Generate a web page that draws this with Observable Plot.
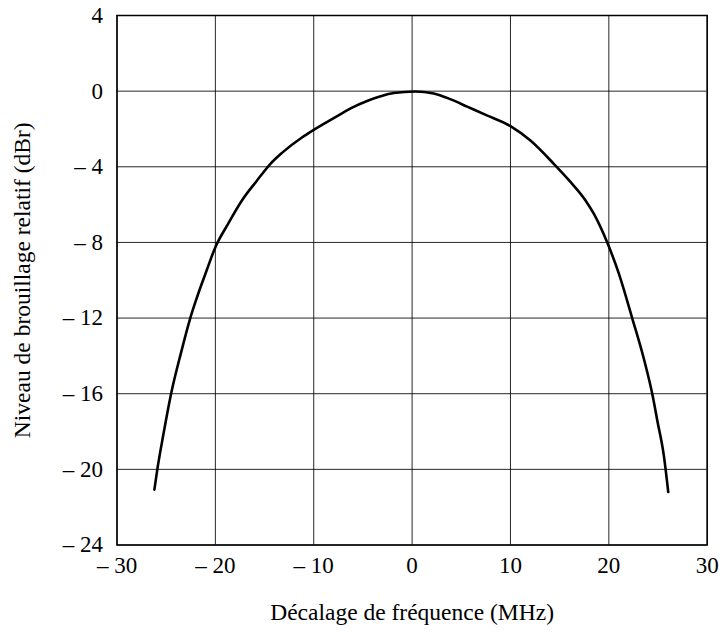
<!DOCTYPE html>
<html>
<head>
<meta charset="utf-8">
<script src="https://cdn.jsdelivr.net/npm/d3@7"></script>
<script src="https://cdn.jsdelivr.net/npm/@observablehq/plot@0.6"></script>
<style>
  html, body { margin: 0; padding: 0; background: white; }
</style>
</head>
<body>
<div id="chart"></div>
<script>
const freqOffset = [-26.2, -25.9, -25.3, -24.5, -23.5, -22.55, -21.9, -20.9, -20.0, -18.8, -17.3, -15.8, -14.4, -13.2, -11.2, -10.0, -7.97, -6.2, -4.58, -3.2, -1.87, 0.3, 2.2, 4.0, 5.6, 7.6, 10.0, 12.0, 14.4, 16.1, 17.63, 18.47, 19.84, 21.02, 22.38, 23.56, 24.48, 24.92, 25.6, 26.04];
const level = [-21.07, -20, -18.2, -16, -13.85, -12, -10.95, -9.5, -8.25, -7.1, -5.78, -4.75, -3.84, -3.25, -2.45, -2.05, -1.43, -0.9, -0.52, -0.27, -0.1, -0.02, -0.12, -0.45, -0.82, -1.28, -1.85, -2.6, -3.84, -4.8, -5.78, -6.48, -8.01, -9.65, -12.01, -14.15, -16.17, -17.4, -19.3, -21.2];
const xTicks = [-30, -20, -10, 0, 10, 20, 30];
const yTicks = [4, 0, -4, -8, -12, -16, -20, -24];
const xLabel = "Décalage de fréquence (MHz)";
const yLabel = "Niveau de brouillage relatif (dBr)";

const data = freqOffset.map((x, i) => ({x, y: level[i]}));
const fmt = d => d < 0 ? "\u2013 " + Math.abs(d) : String(d);

const chart = Plot.plot({
  width: 720,
  height: 635,
  marginTop: 15,
  marginBottom: 90.5,
  marginLeft: 116.5,
  marginRight: 13.3,
  style: {fontFamily: "'Liberation Serif', 'Times New Roman', serif", fontSize: "23px", background: "white", color: "black"},
  x: {domain: [-30, 30]},
  y: {domain: [-24, 4]},
  marks: [
    Plot.gridX(xTicks, {stroke: "black", strokeOpacity: 0.85, strokeWidth: 1}),
    Plot.gridY(yTicks, {stroke: "black", strokeOpacity: 0.85, strokeWidth: 1}),
    Plot.frame({stroke: "black", strokeWidth: 1.5}),
    Plot.axisX(xTicks, {tickSize: 0, tickPadding: 12, tickFormat: fmt, fontSize: 23, label: null}),
    Plot.axisX({tickSize: 0, ticks: [], label: xLabel, labelAnchor: "center", labelOffset: 75, labelArrow: "none", fontSize: 23.5}),
    Plot.axisY(yTicks, {tickSize: 0, tickPadding: 14, tickFormat: fmt, fontSize: 23, label: null}),
    Plot.axisY({tickSize: 0, ticks: [], label: yLabel, labelAnchor: "center", labelOffset: 104, labelArrow: "none", fontSize: 23.5}),
    Plot.line(data, {x: "x", y: "y", stroke: "black", strokeWidth: 2.6, curve: "monotone-x"})
  ]
});
document.getElementById("chart").appendChild(chart);
</script>
</body>
</html>
